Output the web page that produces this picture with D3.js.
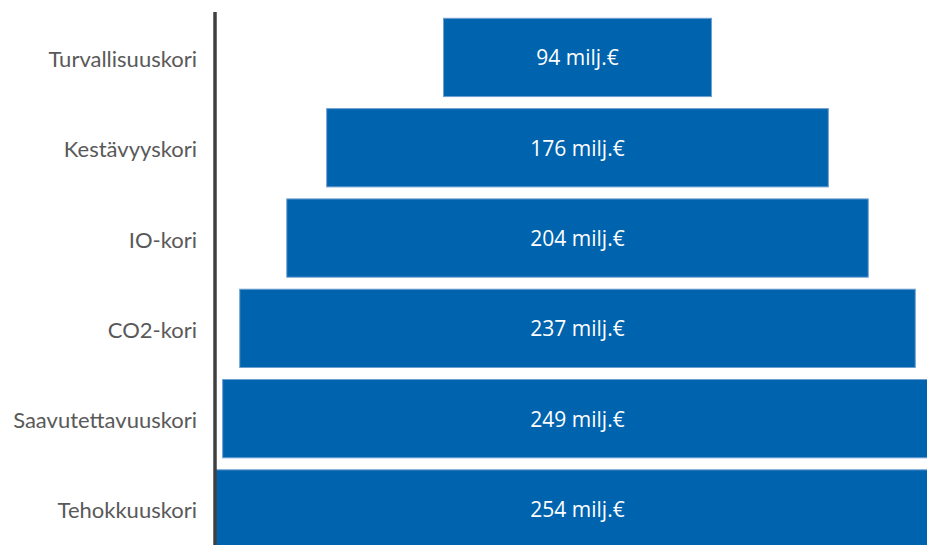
<!DOCTYPE html>
<html><head><meta charset="utf-8">
<script src="https://cdn.jsdelivr.net/npm/d3@7"></script>
<style>html,body{margin:0;padding:0;background:#fff;overflow:hidden}</style>
</head><body>
<svg id="chart" width="927" height="545"></svg>
<script>
const categories = ["Turvallisuuskori","Kestävyyskori","IO-kori","CO2-kori","Saavutettavuuskori","Tehokkuuskori"];
const values = [94,176,204,237,249,254];
const valueLabels = ["94 milj.€","176 milj.€","204 milj.€","237 milj.€","249 milj.€","254 milj.€"];

const svg = d3.select("#chart");
const W = 927, H = 545;
const cx = 577.5;
const w = d3.scaleLinear().domain([0, 254]).range([0, 724]);
const y = d3.scaleBand().domain(categories).range([12.3, 12.3 + 6*90.3]).paddingInner(0.133).paddingOuter(0.0665);

svg.selectAll("rect.bar").data(categories).join("rect")
  .attr("class","bar")
  .attr("x",(d,i)=>cx - w(values[i])/2)
  .attr("y",d=>y(d))
  .attr("width",(d,i)=>w(values[i]))
  .attr("height",y.bandwidth())
  .attr("fill","#0063ae")
  .attr("stroke","#6f9fd0")
  .attr("stroke-width",1);

svg.selectAll("text.val").data(categories).join("text")
  .attr("class","val")
  .attr("x",cx)
  .attr("y",d=>y(d)+y.bandwidth()/2)
  .attr("text-anchor","middle")
  .attr("dominant-baseline","central")
  .attr("font-family","'Open Sans'")
  .attr("font-size",21)
  .attr("fill","#fff")
  .text((d,i)=>valueLabels[i]);

// axis line
svg.append("line").attr("x1",215).attr("x2",215).attr("y1",12).attr("y2",H)
  .attr("stroke","#404040").attr("stroke-width",3.5);

svg.selectAll("text.lab").data(categories).join("text")
  .attr("class","lab")
  .attr("x",197)
  .attr("y",d=>y(d)+y.bandwidth()/2+1)
  .attr("text-anchor","end")
  .attr("dominant-baseline","central")
  .attr("font-family","Lato")
  .attr("font-size",22)
  .attr("fill","#595959")
  .text(d=>d);
</script></body></html>
